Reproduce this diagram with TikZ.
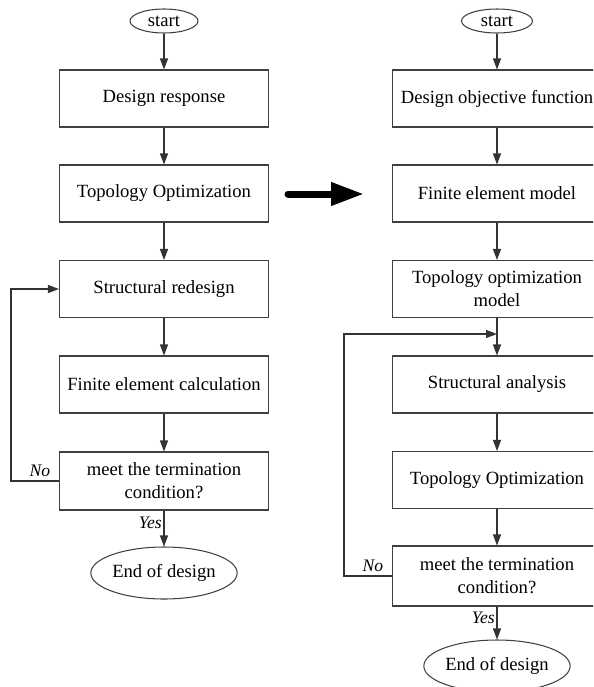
\documentclass[tikz,border=0pt]{standalone}
\usepackage{fontspec}
\setmainfont{Liberation Serif}
\usepackage{tikz}
\usetikzlibrary{shapes.geometric, arrows.meta}
\tikzstyle{process} = [rectangle, draw=black!75, line width=0.6pt, minimum width=4.18cm, minimum height=1.14cm, inner xsep=1pt, align=center]
\tikzstyle{startstop} = [ellipse, draw=black!75, line width=0.6pt, inner sep=0pt]
\tikzstyle{arrow} = [draw=black!80, line width=0.6pt, -{Triangle[length=2.2mm, width=1.6mm]}]
\tikzstyle{answer} = [font=\itshape]

\begin{document}
\begin{tikzpicture}[x=0.02cm, y=-0.02cm, font=\fontsize{10.6}{13}\selectfont]
	\path[use as bounding box, clip] (0,0) rectangle (593,687);
	% left chart
	\node[startstop, minimum width=1.36cm, minimum height=0.48cm] (lstart) at (164,21) {start};
	\node[process] (lresp) at (164,98.5) {Design response};
	\node[process] (ltopo) at (164,193.5) {Topology Optimization};
	\node[process] (lredes) at (164,289) {Structural redesign};
	\node[process] (lfem) at (164,384.5) {Finite element calculation};
	\node[process, minimum height=1.16cm] (lmeet) at (164,481) {meet the termination\\condition?};
	\node[startstop, minimum width=2.46cm, minimum height=1.04cm] (lend) at (164,573) {End of design};
	\draw[arrow] (lstart) -- (lresp);
	\draw[arrow] (lresp) -- (ltopo);
	\draw[arrow] (ltopo) -- (lredes);
	\draw[arrow] (lredes) -- (lfem);
	\draw[arrow] (lfem) -- (lmeet);
	\draw[arrow] (lmeet) -- node[answer, left, pos=0.35, inner sep=1pt] {Yes} (lend);
	\draw[arrow] (lmeet.west) -- node[answer, above, pos=0.4, inner sep=2pt] {No} ++(-48,0) |- (lredes.west);

	% big arrow between the two charts
	\coordinate (fromleft) at (288,194);
	\coordinate (toright) at (364,194);
	\draw[line width=0.14cm, line cap=round, -{Triangle[length=6.6mm, width=4.4mm]}] (fromleft) -- (toright);

	% right chart
	\node[startstop, minimum width=1.42cm, minimum height=0.48cm] (rstart) at (497,21) {start};
	\node[process] (robj) at (497,98.5) {Design objective function};
	\node[process] (rfem) at (497,193.5) {Finite element model};
	\node[process] (rmodel) at (497,289) {Topology optimization\\model};
	\node[process] (rana) at (497,384.5) {Structural analysis};
	\node[process] (rtopo) at (497,480) {Topology Optimization};
	\node[process, minimum height=1.2cm] (rmeet) at (497,576) {meet the termination\\condition?};
	\node[startstop, minimum width=2.46cm, minimum height=1.04cm] (rend) at (497,666) {End of design};
	\coordinate (rjoin) at (497,334);
	\draw[arrow] (rstart) -- (robj);
	\draw[arrow] (robj) -- (rfem);
	\draw[arrow] (rfem) -- (rmodel);
	\draw[arrow] (rmodel) -- (rana);
	\draw[arrow] (rana) -- (rtopo);
	\draw[arrow] (rtopo) -- (rmeet);
	\draw[arrow] (rmeet) -- node[answer, left, pos=0.35, inner sep=1pt] {Yes} (rend);
	\draw[arrow] (rmeet.west) -- node[answer, above, pos=0.4, inner sep=2pt] {No} ++(-48,0) |- (rjoin);
\end{tikzpicture}
\end{document}
